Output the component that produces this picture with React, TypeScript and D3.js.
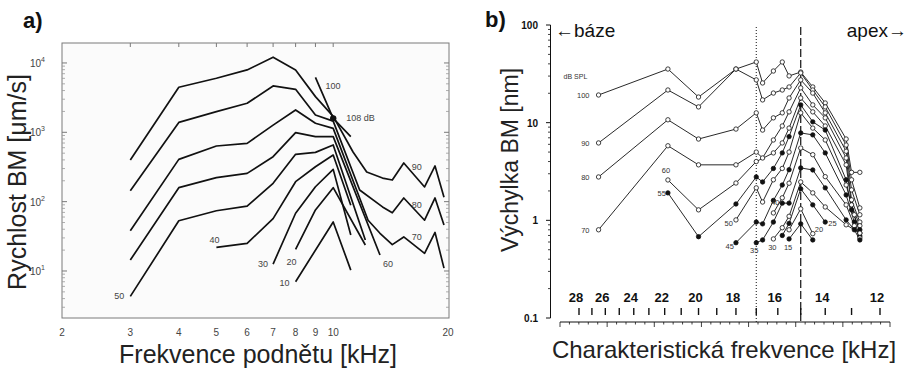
import React from "react";
import * as d3 from "d3";

const FONT = "'Liberation Sans', Arial, sans-serif";

// ---------------- Panel a data (frequency kHz, velocity µm/s) ----------------
const freqTicksA = [2, 3, 4, 5, 6, 7, 8, 9, 10, 20];
const topTicksA = [3, 4, 5, 6, 7, 8, 9, 10];
const decadesA = [10, 100, 1000, 10000];
const decadeExpA = [1, 2, 3, 4];

const curveA10 = [[8, 7.0], [10, 51], [11.1, 10.3]];
const curveA20 = [[8, 20.5], [9, 76], [10, 159], [12.1, 23.7]];
const curveA30 = [[7, 12.6], [8, 68], [9, 164], [10, 292], [11.1, 33]];
const curveA40 = [[5, 21.9], [6, 25], [7, 57], [8, 194], [9, 319], [10, 470], [11.1, 89]];
const curveA50 = [[3, 4.3], [4, 53], [5, 74], [6, 86], [7, 184], [8, 481], [9, 514], [10, 656], [12.1, 28]];
const curveA60 = [[3, 14.4], [4, 159], [5, 222], [6, 256], [7, 445], [8, 990], [9, 865], [10, 865], [13.2, 17]];
const curveA70 = [[3, 38], [4, 407], [5, 635], [6, 693], [7, 1270], [8, 2100], [9, 1350], [10, 1140], [12.3, 54], [13.2, 35], [14.2, 24], [15.2, 31], [17.2, 18], [18.3, 36], [19.3, 11]];
const curveA80 = [[3, 144], [4, 1390], [5, 1990], [6, 2620], [7, 4660], [8, 4170], [9, 1780], [10, 1450], [11.7, 147], [13.4, 84], [14.2, 69], [15.2, 113], [17.2, 54], [18.3, 113], [19.3, 46]];
const curveA90 = [[3, 398], [4, 4460], [5, 6010], [6, 7930], [7, 12100], [8, 7930], [9, 3270], [10, 1700], [11.25, 520], [12.2, 267], [13.4, 219], [14.2, 205], [15.2, 361], [17.2, 163], [18.3, 327], [19.3, 116]];
const curveA100 = [[9, 6210], [10, 1590], [11.1, 865]];
const dotA108 = [10, 1590];

const curvesA = [curveA10, curveA20, curveA30, curveA40, curveA50, curveA60, curveA70, curveA80, curveA90, curveA100];

const labelsA = [
  { t: "50", p: curveA50[0], dx: -6, dy: 3, a: "end" },
  { t: "40", p: curveA40[0], dx: -2, dy: -4, a: "middle" },
  { t: "30", p: curveA30[0], dx: -5, dy: 3, a: "end" },
  { t: "20", p: curveA20[0], dx: -4, dy: 16, a: "middle" },
  { t: "10", p: curveA10[0], dx: -6, dy: 4, a: "end" },
  { t: "60", p: curveA60[8], dx: 3, dy: 12, a: "start" },
  { t: "70", p: curveA70[11], dx: 13, dy: 3, a: "middle" },
  { t: "80", p: curveA80[11], dx: 13, dy: 10, a: "middle" },
  { t: "90", p: curveA90[12], dx: 13, dy: 7, a: "middle" },
  { t: "100", p: curveA100[0], dx: 10, dy: 12, a: "start" },
  { t: "108 dB", p: dotA108, dx: 13, dy: 3, a: "start" },
];

// ---------------- Panel b data (CF kHz, displacement nm) ----------------
const cfTicksB = [28, 27, 26, 25, 24, 23, 22, 21, 20, 19, 18, 17, 16, 15, 14, 13, 12];
const cfLabelsB = [28, 26, 24, 22, 20, 18, 16, 14, 12];
const yTicksB = [0.1, 1, 10, 100];
const yTickTextB = ["0.1", "1", "10", "100"];
const dotted17 = 17;
const dashed15 = 15;

const curveB100 = [[26.5, 19.2], [21.8, 35.4], [20.0, 18.3], [18.0, 35.4], [17.0, 41.8], [16.7, 25.5], [16.2, 33.8], [15.8, 41.8], [15.5, 30.1], [15.0, 33.0], [14.5, 23.2], [14.0, 15.9], [13.2, 6.8], [13.0, 3.1], [12.7, 3.1]];
const curveB90 = [[26.5, 6.2], [21.8, 21.6], [20.0, 14.5], [18.0, 35.4], [17.0, 27.4], [16.7, 17.1], [16.2, 20.1], [15.8, 21.6], [15.5, 23.2], [15.0, 32.3], [14.5, 21.6], [14.0, 14.5], [13.2, 5.9], [13.0, 2.6], [12.7, 1.34]];
const curveB80 = [[26.5, 2.78], [21.8, 10.7], [20.0, 6.8], [18.0, 8.6], [17.0, 12.6], [16.7, 8.4], [16.2, 11.2], [15.8, 12.6], [15.5, 17.9], [15.0, 27.4], [14.5, 20.1], [14.0, 12.6], [13.2, 5.1], [13.0, 2.05], [12.7, 1.14]];
const curveB70 = [[26.5, 0.8], [21.8, 5.8], [20.0, 3.7], [18.0, 3.7], [17.0, 5.0], [16.7, 4.35], [16.2, 6.65], [15.8, 9.25], [15.5, 12.9], [15.0, 22.7], [14.5, 15.2], [14.0, 11.2], [13.2, 4.35], [13.0, 1.62], [12.7, 0.96]];
const curveB60 = [[21.8, 2.59], [20.0, 1.28], [18.0, 2.41], [17.0, 4.0], [16.2, 4.9], [15.8, 6.2], [15.5, 8.8], [15.0, 17.9], [14.5, 12.9], [14.0, 9.25], [13.2, 3.7], [13.0, 1.44], [12.7, 0.88]];
const curveB55 = [[21.8, 1.91], [20.0, 0.68], [18.0, 1.47], [17.0, 2.78], [16.7, 2.47], [16.2, 3.4], [15.8, 4.9], [15.5, 7.2], [15.0, 15.2], [14.5, 10.2], [14.0, 8.4], [13.2, 2.6], [13.0, 1.28], [12.7, 0.8]];
const curveB50 = [[18.0, 1.01], [17.0, 2.15], [16.7, 1.54], [16.2, 2.6], [15.8, 3.4], [15.5, 5.0], [15.0, 12.6], [14.5, 8.8], [14.0, 6.65], [13.2, 2.3], [12.9, 1.14], [12.7, 0.74]];
const curveB45 = [[18.0, 0.59], [17.0, 0.96], [16.7, 0.92], [16.2, 1.6], [15.8, 2.3], [15.5, 3.3], [15.0, 7.85], [14.5, 7.5], [14.0, 4.9], [13.2, 1.82], [12.9, 0.96], [12.7, 0.69]];
const curveB40 = [[16.2, 1.19], [15.8, 1.7], [15.5, 2.4], [15.0, 5.5], [14.5, 4.7], [14.0, 2.8], [13.2, 1.44], [12.9, 0.88], [12.7, 0.66]];
const curveB35 = [[17.0, 0.59], [16.7, 0.63], [16.2, 0.96], [15.8, 1.5], [15.5, 1.5], [15.0, 3.44], [14.5, 3.28], [14.0, 2.15], [13.2, 1.01], [12.9, 0.8], [12.7, 0.63]];
const curveB30 = [[16.2, 0.645], [15.8, 0.84], [15.5, 1.1], [15.0, 2.47], [14.5, 1.91], [14.0, 1.37], [13.2, 0.9], [12.7, 0.74]];
const curveB25 = [[15.8, 0.7], [15.5, 0.93], [15.0, 2.1], [14.5, 1.44], [14.0, 0.96]];
const curveB20 = [[15.5, 0.8], [15.0, 1.31], [14.5, 0.73]];
const curveB15 = [[15.5, 0.645], [15.0, 0.92], [14.5, 0.63]];

const curvesB = [
  { level: 100, filled: false, pts: curveB100 },
  { level: 90, filled: false, pts: curveB90 },
  { level: 80, filled: false, pts: curveB80 },
  { level: 70, filled: false, pts: curveB70 },
  { level: 60, filled: false, pts: curveB60 },
  { level: 55, filled: true, pts: curveB55 },
  { level: 50, filled: false, pts: curveB50 },
  { level: 45, filled: true, pts: curveB45 },
  { level: 40, filled: false, pts: curveB40 },
  { level: 35, filled: true, pts: curveB35 },
  { level: 30, filled: false, pts: curveB30 },
  { level: 25, filled: true, pts: curveB25 },
  { level: 20, filled: false, pts: curveB20 },
  { level: 15, filled: true, pts: curveB15 },
];

const labelsB = [
  { t: "100", p: curveB100[0], dx: -9, dy: 3, a: "end" },
  { t: "90", p: curveB90[0], dx: -9, dy: 3, a: "end" },
  { t: "80", p: curveB80[0], dx: -9, dy: 3, a: "end" },
  { t: "70", p: curveB70[0], dx: -9, dy: 3, a: "end" },
  { t: "60", p: curveB60[0], dx: -2, dy: -7, a: "middle" },
  { t: "55", p: curveB55[0], dx: -2, dy: 3, a: "end" },
  { t: "50", p: curveB50[0], dx: -3, dy: 6, a: "end" },
  { t: "45", p: curveB45[0], dx: -2, dy: 6, a: "end" },
  { t: "35", p: curveB35[0], dx: -2, dy: 10, a: "middle" },
  { t: "30", p: curveB30[0], dx: -1, dy: 11, a: "middle" },
  { t: "15", p: curveB15[0], dx: -1, dy: 11, a: "middle" },
  { t: "40", p: curveB40[0], dx: 2, dy: -8, a: "middle" },
  { t: "20", p: curveB20[2], dx: 2, dy: -2, a: "start" },
  { t: "25", p: curveB25[4], dx: 3, dy: 4, a: "start" },
];

export default function App() {
  // Panel a scales
  const xA = d3.scaleLog().domain([2, 20]).range([62, 450]);
  const yA = d3.scaleLog().domain([2.1, 19400]).range([318, 43]);
  const lineA = d3.line<number[]>().x((d) => xA(d[0])).y((d) => yA(d[1]));

  // Panel b scales
  const xB = d3.scaleLog().domain([28, 12]).range([579, 880]);
  const yB = d3.scaleLog().domain([0.1, 100]).range([318, 25]);
  const xD = d3.scaleLinear().domain([0, 7]).range([560, 890]);
  const lineB = d3.line<number[]>().x((d) => xB(d[0])).y((d) => yB(d[1]));

  const minorA: number[] = [];
  [1, 10, 100, 1000, 10000].forEach((d) => {
    for (let k = 2; k <= 9; k++) {
      const v = d * k;
      if (v > 2.1 && v < 19400) minorA.push(v);
    }
  });
  const minorB: number[] = [];
  [0.1, 1, 10].forEach((d) => {
    for (let k = 2; k <= 9; k++) minorB.push(d * k);
  });
  const distTicks = d3.range(0, 7.0001, 0.2);

  const frameL = 62, frameR = 449, frameT = 43, frameB = 318;

  return (
    <svg width={909} height={372} style={{ position: "absolute", left: 0, top: 0, background: "#fff" }} fontFamily={FONT}>
      <rect x={0} y={0} width={909} height={372} fill="#fff" />
      {/* ===== Panel a ===== */}
      <text x={23} y={28} fontSize={22} fontWeight="bold" fill="#111">a)</text>
      <rect x={frameL} y={frameT} width={frameR - frameL} height={frameB - frameT} fill="#fbfbfb" stroke="#7a7a7a" strokeWidth={1} />
      {topTicksA.map((f) => (
        <line key={"tt" + f} x1={xA(f)} x2={xA(f)} y1={frameT} y2={frameT + 4} stroke="#7a7a7a" />
      ))}
      {decadesA.map((v) => (
        <g key={"dy" + v}>
          <line x1={frameL} x2={frameL + 5} y1={yA(v)} y2={yA(v)} stroke="#7a7a7a" />
          <line x1={frameR} x2={frameR - 5} y1={yA(v)} y2={yA(v)} stroke="#7a7a7a" />
        </g>
      ))}
      {minorA.map((v) => (
        <g key={"my" + v}>
          <line x1={frameL} x2={frameL + 3} y1={yA(v)} y2={yA(v)} stroke="#999" strokeWidth={0.8} />
          <line x1={frameR} x2={frameR - 3} y1={yA(v)} y2={yA(v)} stroke="#999" strokeWidth={0.8} />
        </g>
      ))}
      {decadesA.map((v, i) => (
        <text key={"yl" + v} x={45} y={yA(v) + 4} fontSize={10} fill="#444" textAnchor="end">
          10<tspan dy={-5} fontSize={7}>{decadeExpA[i]}</tspan>
        </text>
      ))}
      {freqTicksA.map((f) => (
        <text key={"xl" + f} x={f === 20 ? xA(f) - 2 : xA(f)} y={336} fontSize={10} fill="#444" textAnchor="middle">
          {f}
        </text>
      ))}
      {curvesA.map((c, i) => (
        <path key={"ca" + i} d={lineA(c) || ""} fill="none" stroke="#111" strokeWidth={1.7} strokeLinejoin="round" />
      ))}
      <circle cx={xA(dotA108[0])} cy={yA(dotA108[1])} r={3.2} fill="#111" />
      {labelsA.map((l, i) => (
        <text key={"la" + i} x={xA(l.p[0]) + l.dx} y={yA(l.p[1]) + l.dy} fontSize={9} fill="#444" textAnchor={l.a as any}>
          {l.t}
        </text>
      ))}
      <text transform={`translate(26,182) rotate(-90)`} fontSize={25} textAnchor="middle" fill="#222">
        Rychlost BM [μm/s]
      </text>
      <text x={258} y={363} fontSize={25} textAnchor="middle" fill="#222">
        Frekvence podnětu [kHz]
      </text>

      {/* ===== Panel b ===== */}
      <text x={485} y={27} fontSize={22} fontWeight="bold" fill="#111">b)</text>
      <line x1={550.5} x2={550.5} y1={yB(100)} y2={yB(0.1)} stroke="#111" strokeWidth={1} />
      {yTicksB.map((v, i) => (
        <g key={"by" + v}>
          <line x1={546} x2={550.5} y1={yB(v)} y2={yB(v)} stroke="#111" />
          <text x={538} y={yB(v) + 4} fontSize={10} fontWeight="bold" textAnchor="end" fill="#111">
            {yTickTextB[i]}
          </text>
        </g>
      ))}
      {minorB.map((v) => (
        <line key={"bm" + v} x1={548} x2={550.5} y1={yB(v)} y2={yB(v)} stroke="#111" strokeWidth={0.8} />
      ))}
      <text x={555} y={37} fontSize={19} fill="#111">←báze</text>
      <text x={907} y={37} fontSize={19} fill="#111" textAnchor="end">apex→</text>

      {/* bottom distance axis */}
      <line x1={xD(0)} x2={xD(7)} y1={322} y2={322} stroke="#111" strokeWidth={1} />
      {distTicks.map((d, i) => (
        <line key={"dt" + i} x1={xD(d)} x2={xD(d)} y1={322} y2={i % 5 === 0 ? 327 : 324.5} stroke="#111" strokeWidth={0.8} />
      ))}

      {/* CF ticks and labels */}
      {cfTicksB.map((f) => (
        <line key={"cf" + f} x1={xB(f)} x2={xB(f)} y1={308} y2={315} stroke="#111" strokeWidth={1.4} />
      ))}
      {cfLabelsB.map((f) => (
        <text key={"cfl" + f} x={xB(f) - 3} y={302} fontSize={13} fontWeight="bold" textAnchor="middle" fill="#111">
          {f}
        </text>
      ))}

      {/* reference lines */}
      <line x1={xB(dotted17)} x2={xB(dotted17)} y1={27} y2={322} stroke="#111" strokeWidth={1} strokeDasharray="1 2" />
      <line x1={xB(dashed15)} x2={xB(dashed15)} y1={27} y2={322} stroke="#111" strokeWidth={1.2} strokeDasharray="8 3" />

      {curvesB.map((c) => (
        <path key={"cb" + c.level} d={lineB(c.pts) || ""} fill="none" stroke="#111" strokeWidth={0.9} strokeLinejoin="round" />
      ))}
      {curvesB.map((c) =>
        c.pts.map((p, j) => (
          <circle key={"pb" + c.level + "-" + j} cx={xB(p[0])} cy={yB(p[1])} r={2.2} fill={c.filled ? "#111" : "#fff"} stroke="#111" strokeWidth={0.8} />
        ))
      )}
      <text x={xB(26.5) - 35} y={yB(28)} fontSize={7} fill="#333">dB SPL</text>
      {labelsB.map((l, i) => (
        <text key={"lb" + i} x={xB(l.p[0]) + l.dx} y={yB(l.p[1]) + l.dy} fontSize={7.5} fill="#333" textAnchor={l.a as any}>
          {l.t}
        </text>
      ))}
      <text transform={`translate(518,160) rotate(-90)`} fontSize={23} textAnchor="middle" fill="#222">
        Výchylka BM [nm]
      </text>
      <text x={724} y={358} fontSize={24} textAnchor="middle" fill="#222">
        Charakteristická frekvence [kHz]
      </text>
    </svg>
  );
}
